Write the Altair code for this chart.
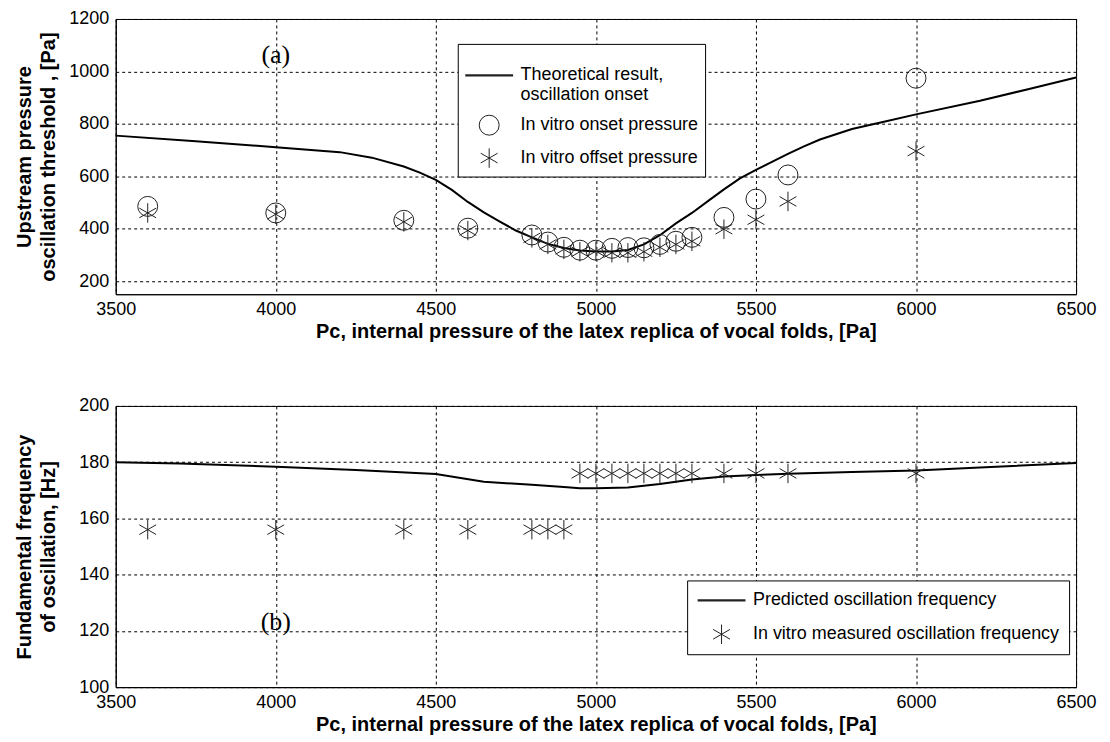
import altair as alt
import pandas as pd

# ---------------- Panel (a) data ----------------
theory_pc = [3500, 3750, 4000, 4200, 4300, 4400, 4450, 4500, 4550, 4600, 4650, 4700, 4750,
             4800, 4850, 4900, 4950, 5000, 5050, 5100, 5150, 5200, 5250, 5300, 5350, 5400,
             5450, 5500, 5550, 5600, 5650, 5700, 5800, 5900, 6000, 6200, 6350, 6500]
theory_p = [755, 734, 711, 692, 671, 637, 614, 586, 548, 502, 462, 427, 393,
            367, 342, 326, 317, 313, 313, 319, 340, 375, 420, 460, 505, 550,
            592, 624, 655, 685, 714, 740, 780, 808, 836, 888, 932, 977]

meas_pc = [3600, 4000, 4400, 4600, 4800, 4850, 4900, 4950, 5000, 5050, 5100, 5150,
           5200, 5250, 5300, 5400, 5500, 5600, 6000]
onset_p = [485, 460, 432, 402, 376, 349, 329, 318, 318, 325, 328, 327,
           340, 352, 367, 443, 513, 605, 974]
offset_p = [460, 455, 426, 393, 365, 340, 321, 312, 314, 308, 308, 312,
            329, 340, 352, 398, 434, 504, 696]

# ---------------- Panel (b) data ----------------
pred_pc = [3500, 3700, 4000, 4250, 4500, 4650, 4800, 4900, 4950, 5000, 5100, 5200,
           5300, 5400, 5500, 5600, 5800, 6000, 6200, 6500]
pred_f = [180.0, 179.5, 178.4, 177.2, 175.8, 173.0, 172.0, 171.2, 170.7, 170.7, 171.0, 172.2,
          173.8, 174.9, 175.4, 175.9, 176.5, 177.0, 178.1, 179.7]
freq_pc = [3600, 4000, 4400, 4600, 4800, 4850, 4900, 4950, 5000, 5050, 5100, 5150,
           5200, 5250, 5300, 5400, 5500, 5600, 6000]
freq_f = [156, 156, 156, 156, 156, 156, 156, 176, 176, 176, 176, 176,
          176, 176, 176, 176, 176, 176, 176]

x_ticks = [3500, 4000, 4500, 5000, 5500, 6000, 6500]
ya_ticks = [200, 400, 600, 800, 1000, 1200]
yb_ticks = [100, 120, 140, 160, 180, 200]

A_LINE = "Theoretical result,|oscillation onset"
A_ON = "In vitro onset pressure"
A_OFF = "In vitro offset pressure"
B_LINE = "Predicted oscillation frequency"
B_MEAS = "In vitro measured oscillation frequency"
XTITLE = "Pc, internal pressure of the latex replica of vocal folds, [Pa]"

ASTERISK = "M0,-1L0,1M-0.866,-0.5L0.866,0.5M-0.866,0.5L0.866,-0.5"

W = 963
HA = 276
HB = 282

df_theory = pd.DataFrame({"Pc": theory_pc, "V": theory_p})
df_pts_a = pd.DataFrame({
    "Pc": meas_pc + meas_pc,
    "V": onset_p + offset_p,
    "series": [A_ON] * len(meas_pc) + [A_OFF] * len(meas_pc),
})
df_pred = pd.DataFrame({"Pc": pred_pc, "V": pred_f})
df_pts_b = pd.DataFrame({"Pc": freq_pc, "V": freq_f, "series": [B_MEAS] * len(freq_pc)})
df_a_lab = pd.DataFrame({"Pc": [4000], "V": [1064], "t": ["(a)"]})
df_b_lab = pd.DataFrame({"Pc": [4000], "V": [123], "t": ["(b)"]})

FONT = "Liberation Sans"


def x_enc():
    return alt.X("Pc:Q",
                 scale=alt.Scale(domain=[3500, 6500], nice=False, zero=False),
                 axis=alt.Axis(values=x_ticks, title=XTITLE, format="d", labelFlush=False,
                               labelOverlap=False, titlePadding=3, labelPadding=6))


def y_enc(domain, ticks, title, h):
    return alt.Y("V:Q",
                 scale=alt.Scale(domain=domain, nice=False, zero=False),
                 axis=alt.Axis(values=ticks, title=title, format="d", labelFlush=False,
                               labelOverlap=False, labelPadding=7,
                               titleAngle=270, titleX=-91, titleY=h / 2,
                               titleAlign="center", titleBaseline="middle",
                               titleLineHeight=24))


def legend(x, y, clip=None, rowpad=8, pad=8):
    kw = dict(title=None, orient="none", legendX=x, legendY=y,
              padding=pad, strokeColor="black", fillColor="white",
              labelFont=FONT, labelFontSize=18, labelColor="black",
              labelExpr="split(datum.label, '|')", rowPadding=rowpad,
              labelOffset=6, symbolOffset=0, labelLimit=500,
              cornerRadius=0)
    if clip is not None:
        kw["clipHeight"] = clip
    return alt.Legend(**kw)


def panel(df_line, df_pts, df_lab, dom, shapes, sizes, widths, ydom, yticks, ytitle, h, leg):
    line = alt.Chart(df_line).mark_line(color="black", strokeWidth=2).encode(
        x=x_enc(), y=y_enc(ydom, yticks, ytitle, h))
    pts = alt.Chart(df_pts).mark_point(filled=False, color="#222", opacity=1).encode(
        x=x_enc(), y=y_enc(ydom, yticks, ytitle, h),
        shape=alt.Shape("series:N", scale=alt.Scale(domain=dom, range=shapes), legend=leg),
        size=alt.Size("series:N", scale=alt.Scale(type="ordinal", domain=dom, range=sizes), legend=leg),
        strokeWidth=alt.StrokeWidth("series:N", scale=alt.Scale(type="ordinal", domain=dom, range=widths), legend=leg),
    )
    lab = alt.Chart(df_lab).mark_text(font="Liberation Serif", fontSize=26, color="black").encode(
        x=x_enc(), y=y_enc(ydom, yticks, ytitle, h), text="t:N")
    return alt.layer(line, pts, lab).properties(width=W, height=h)


top = panel(df_theory, df_pts_a, df_a_lab, [A_LINE, A_ON, A_OFF],
            ["stroke", "circle", ASTERISK], [2300, 400, 380], [2.2, 1, 1],
            [150, 1200], ya_ticks, ["Upstream pressure", "oscillation threshold , [Pa]"], HA,
            legend(343, 25, rowpad=8, pad=6))
bottom = panel(df_pred, df_pts_b, df_b_lab, [B_LINE, B_MEAS],
               ["stroke", ASTERISK], [2300, 380], [2.2, 1],
               [100, 200], yb_ticks, ["Fundamental frequency", "of oscillation, [Hz]"], HB,
               legend(573, 175, clip=22, rowpad=12, pad=9))

chart = alt.vconcat(top, bottom, spacing=54).resolve_scale(
    y="independent", shape="independent", size="independent", strokeWidth="independent"
).resolve_legend(
    shape="independent", size="independent", strokeWidth="independent"
).properties(
    padding={"left": 6, "top": 0, "right": 5, "bottom": 5},
    background="white",
).configure_view(
    stroke="black", strokeWidth=1
).configure_axis(
    labelFont=FONT, labelFontSize=18, labelColor="black",
    titleFont=FONT, titleFontSize=20, titleFontWeight="bold", titleColor="black",
    domainColor="black", domainWidth=1, ticks=False,
    gridColor="black", gridDash=[3, 3], gridOpacity=1, gridWidth=1,
)

chart.save("out.html", embed_options={"renderer": "svg", "actions": False})
